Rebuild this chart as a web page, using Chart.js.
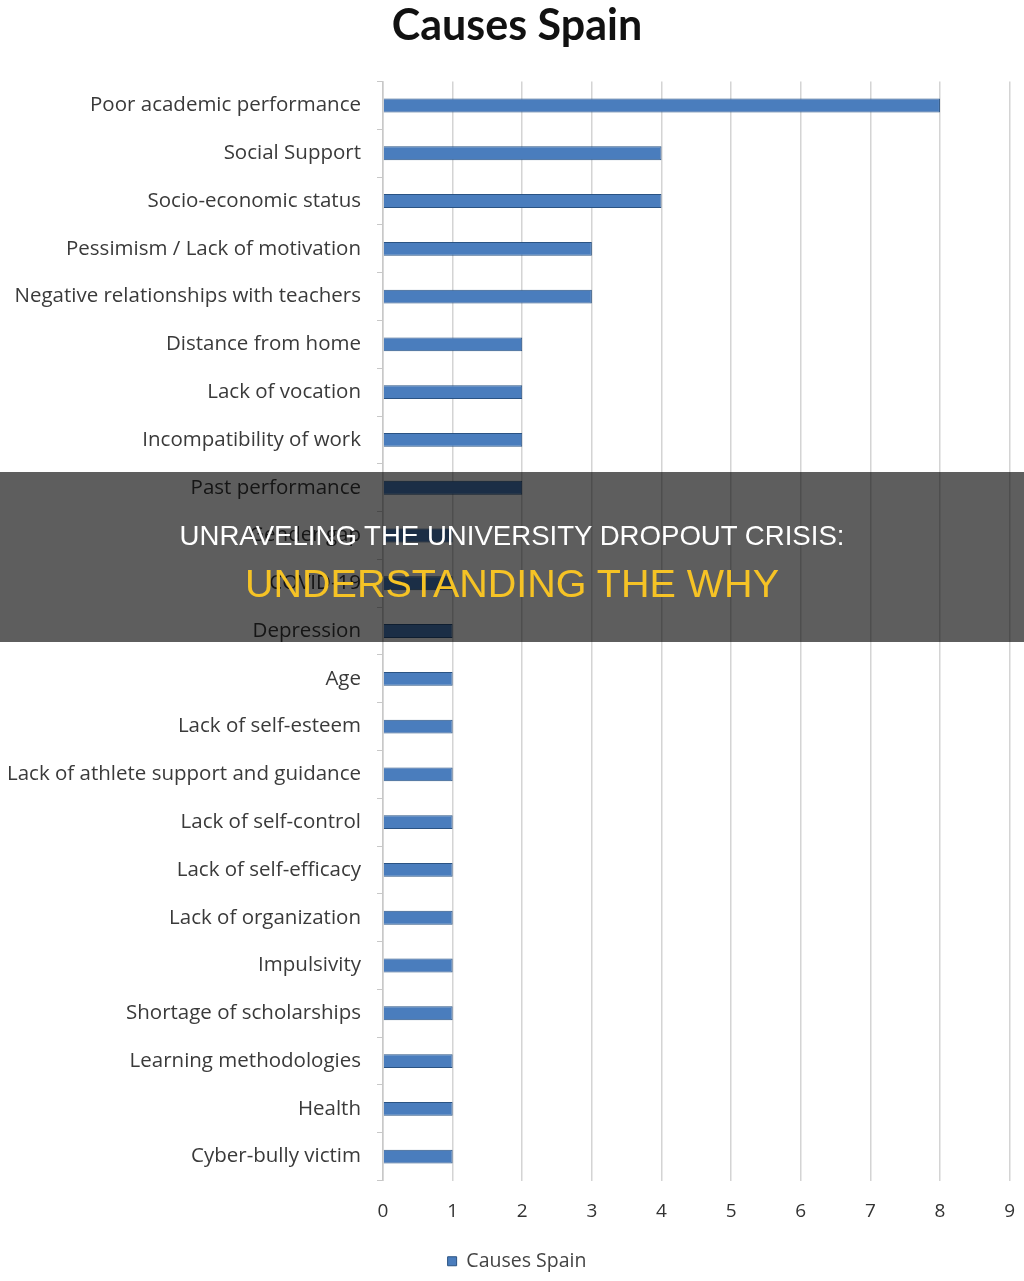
<!DOCTYPE html>
<html>
<head>
<meta charset="utf-8">
<script src="https://cdn.jsdelivr.net/npm/chart.js@4.4.1/dist/chart.umd.min.js"></script>
<style>
  html, body { margin: 0; padding: 0; background: #fff; }
  #wrap { position: relative; width: 1024px; height: 1281px; }
  #banner { position: absolute; left: 0; top: 472px; width: 1024px; height: 170px; background: rgba(0,0,0,0.63);
    font-family: "Liberation Sans", Arial, sans-serif; text-align: center; }
  #l1 { position: absolute; left: 0; width: 100%; top: 48px; color: #fff; font-size: 27.6px; line-height: 32px; }
  #l2 { position: absolute; left: 0; width: 100%; top: 89px; color: #f6c325; font-size: 39.5px; line-height: 44px; }
</style>
</head>
<body>
<div id="wrap">
  <canvas id="c" width="1024" height="1281"></canvas>
  <div id="banner">
    <div id="l1">UNRAVELING THE UNIVERSITY DROPOUT CRISIS:</div>
    <div id="l2">UNDERSTANDING THE WHY</div>
  </div>
</div>
<script>
const titleText = "Causes Spain";
const seriesName = "Causes Spain";
const categories = [
  "Poor academic performance",
  "Social Support",
  "Socio-economic status",
  "Pessimism / Lack of motivation",
  "Negative relationships with teachers",
  "Distance from home",
  "Lack of vocation",
  "Incompatibility of work",
  "Past performance",
  "Gender gap",
  "COVID-19",
  "Depression",
  "Age",
  "Lack of self-esteem",
  "Lack of athlete support and guidance",
  "Lack of self-control",
  "Lack of self-efficacy",
  "Lack of organization",
  "Impulsivity",
  "Shortage of scholarships",
  "Learning methodologies",
  "Health",
  "Cyber-bully victim"
];
const values = [8, 4, 4, 3, 3, 2, 2, 2, 2, 1, 1, 1, 1, 1, 1, 1, 1, 1, 1, 1, 1, 1, 1];
const xTicks = [0, 1, 2, 3, 4, 5, 6, 7, 8, 9];

const FONT = "'Open Sans', Lato, sans-serif";
new Chart(document.getElementById('c'), {
  type: 'bar',
  data: {
    labels: categories,
    datasets: [{
      label: seriesName,
      data: values,
      backgroundColor: '#4a7dbd',
      borderColor: '#2a5383',
      borderWidth: 1,
      categoryPercentage: 1,
      barPercentage: 0.29
    }]
  },
  options: {
    indexAxis: 'y',
    responsive: false,
    animation: false,
    layout: { padding: { left: 0, right: -10, top: 0, bottom: 0 } },
    plugins: {
      title: {
        display: true, text: titleText, color: '#111',
        font: { family: "Lato, sans-serif", size: 43, weight: 'bold' },
        padding: { top: 0, bottom: 30 }
      },
      legend: {
        position: 'bottom',
        labels: {
          color: '#444', boxWidth: 9, boxHeight: 9,
          font: { family: FONT, size: 19.5 },
          padding: 12
        }
      },
      tooltip: { enabled: false }
    },
    scales: {
      x: {
        min: 0, max: 9,
        afterBuildTicks: (s) => { s.ticks = xTicks.map(v => ({ value: v })); },
        grid: { color: '#d4d4d4', lineWidth: 1.5, drawTicks: true, tickLength: 3, tickColor: 'rgba(0,0,0,0)' },
        border: { display: false },
        ticks: { color: '#333', font: { family: FONT, size: 19, lineHeight: 2 }, padding: 9 }
      },
      y: {
        grid: { drawOnChartArea: false, color: '#c8c8c8', tickLength: 6, offset: true },
        border: { color: '#c8c8c8', width: 1.5 },
        afterFit: (s) => { s.width = 383; },
        ticks: { color: '#3a3a3a', font: { family: FONT, size: 20.5 }, padding: 16, autoSkip: false }
      }
    }
  }
});
</script>
</body>
</html>
